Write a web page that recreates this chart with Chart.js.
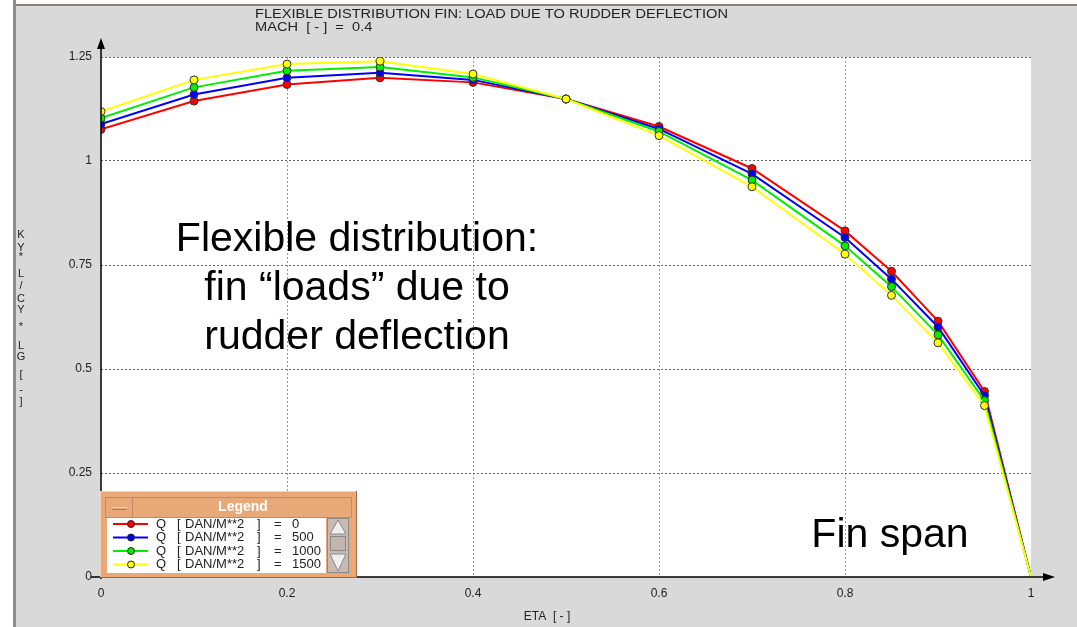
<!DOCTYPE html>
<html>
<head>
<meta charset="utf-8">
<script src="https://cdn.jsdelivr.net/npm/chart.js@4"></script>
<style>
  body { margin: 0; background: #fff; }
  #wrap { width: 1077px; height: 627px; position: relative; }
</style>
</head>
<body>
<div id="wrap"><canvas id="myChart"></canvas></div>
<script>
"use strict";

// values
let eta = [0, 0.1, 0.2, 0.3, 0.4, 0.5, 0.6, 0.7, 0.8, 0.85, 0.9, 0.95, 1];
let load0    = [1.076, 1.144, 1.184, 1.200, 1.189, 1.149, 1.083, 0.982, 0.832, 0.735, 0.615, 0.446, 0];
let load500  = [1.089, 1.160, 1.200, 1.212, 1.195, 1.149, 1.077, 0.969, 0.816, 0.716, 0.601, 0.436, 0];
let load1000 = [1.103, 1.177, 1.217, 1.226, 1.201, 1.149, 1.071, 0.954, 0.796, 0.698, 0.582, 0.424, 0];
let load1500 = [1.119, 1.195, 1.233, 1.240, 1.209, 1.149, 1.061, 0.938, 0.776, 0.677, 0.563, 0.412, 0];
let qValues = [0, 500, 1000, 1500];
let lineColors = ['#ff0000', '#0000ff', '#00ee00', '#ffff00'];
let xTicks = [0, 0.2, 0.4, 0.6, 0.8, 1];
let yTicks = [0, 0.25, 0.5, 0.75, 1, 1.25];

let titleLines = ['FLEXIBLE DISTRIBUTION FIN: LOAD DUE TO RUDDER DEFLECTION', 'MACH  [ - ]  =  0.4'];
let xTitle = 'ETA  [ - ]';
let yTitleChars = ['K', 'Y', '*', 'L', '/', 'C', 'Y', '*', 'L', 'G', '[', '-', ']'];
let noteLines = ['Flexible distribution:', 'fin \u201cloads\u201d due to', 'rudder deflection'];
let spanNote = 'Fin span';

let allLoads = [load0, load500, load1000, load1500];

function makeData(values) {
  let pts = [];
  for (let i = 0; i < eta.length; i++) {
    pts.push({ x: eta[i], y: values[i] });
  }
  return pts;
}

let datasets = [];
for (let i = 0; i < allLoads.length; i++) {
  datasets.push({
    label: 'Q  [ DAN/M**2 ]  =  ' + qValues[i],
    data: makeData(allLoads[i]),
    borderColor: lineColors[i],
    backgroundColor: lineColors[i],
    borderWidth: 2,
    pointRadius: (c) => (c.parsed && c.parsed.x === 1 ? 0 : 4),
    pointBorderColor: '#333',
    pointBorderWidth: 1,
    pointBackgroundColor: lineColors[i],
    clip: 0,
    order: allLoads.length - i
  });
}

let tickFont = { family: 'Liberation Sans, Arial, sans-serif', size: 12 };

let decorPlugin = {
  id: 'decor',
  beforeDraw(chart) {
    let ctx = chart.ctx;
    let a = chart.chartArea;
    ctx.save();
    ctx.fillStyle = '#d9d9d9';
    ctx.fillRect(0, 0, chart.width, chart.height);
    ctx.fillStyle = '#ffffff';
    ctx.fillRect(0, 0, 13, chart.height);
    ctx.fillRect(0, 0, chart.width, 4);
    // window edges
    ctx.fillStyle = '#8c8c8c';
    ctx.fillRect(13, 0, 3, chart.height);
    ctx.fillStyle = '#8a7e78';
    ctx.fillRect(16, 4, chart.width - 16, 2);
    // plot area
    ctx.fillStyle = '#ffffff';
    ctx.fillRect(a.left, a.top, a.right - a.left, a.bottom - a.top);
    ctx.restore();
  },
  afterDatasetsDraw(chart) {
    let ctx = chart.ctx;
    let a = chart.chartArea;
    ctx.save();

    // axes with arrows
    ctx.strokeStyle = '#000';
    ctx.fillStyle = '#000';
    ctx.lineWidth = 1.5;
    ctx.beginPath();
    ctx.moveTo(a.left, a.bottom + 2);
    ctx.lineTo(a.left, a.top - 14);
    ctx.moveTo(a.left - 10, a.bottom);
    ctx.lineTo(a.right + 16, a.bottom);
    ctx.stroke();
    ctx.beginPath();
    ctx.moveTo(a.left, a.top - 19);
    ctx.lineTo(a.left - 4, a.top - 8);
    ctx.lineTo(a.left + 4, a.top - 8);
    ctx.closePath();
    ctx.fill();
    ctx.beginPath();
    ctx.moveTo(a.right + 24, a.bottom);
    ctx.lineTo(a.right + 12, a.bottom - 4);
    ctx.lineTo(a.right + 12, a.bottom + 4);
    ctx.closePath();
    ctx.fill();

    // titles
    ctx.fillStyle = '#222';
    ctx.font = '12px "Liberation Sans", Arial, sans-serif';
    ctx.textBaseline = 'middle';
    ctx.textAlign = 'left';
    let w = ctx.measureText(titleLines[0]).width;
    let sx = 473 / w;
    ctx.save();
    ctx.translate(255, 0);
    ctx.scale(sx, 1);
    ctx.fillText(titleLines[0], 0, 15);
    ctx.fillText(titleLines[1], 0, 28);
    ctx.restore();

    ctx.textAlign = 'center';
    ctx.fillText(xTitle, 547, 617);

    ctx.font = '11px "Liberation Sans", Arial, sans-serif';
    let yPos = [235, 248, 257, 274, 286, 299, 310, 327, 346, 357, 375, 390, 402];
    for (let i = 0; i < yTitleChars.length; i++) {
      ctx.fillText(yTitleChars[i], 21, yPos[i]);
    }

    // big notes
    ctx.fillStyle = '#000';
    ctx.font = '41px "Liberation Sans", Arial, sans-serif';
    for (let i = 0; i < noteLines.length; i++) {
      ctx.fillText(noteLines[i], 357, 240 + i * 49);
    }
    ctx.fillText(spanNote, 890, 536);

    // legend box
    let lx = 100, ly = 491, lw = 257, lh = 87;
    ctx.fillStyle = '#e9a878';
    ctx.fillRect(lx, ly, lw, lh);
    ctx.strokeStyle = '#f7d2b4';
    ctx.lineWidth = 1;
    ctx.beginPath();
    ctx.moveTo(lx + 0.5, ly + lh);
    ctx.lineTo(lx + 0.5, ly + 0.5);
    ctx.lineTo(lx + lw, ly + 0.5);
    ctx.stroke();
    ctx.strokeStyle = '#9c6a48';
    ctx.beginPath();
    ctx.moveTo(lx + lw - 0.5, ly);
    ctx.lineTo(lx + lw - 0.5, ly + lh - 0.5);
    ctx.lineTo(lx, ly + lh - 0.5);
    ctx.stroke();
    // title bar
    ctx.strokeStyle = '#c08a64';
    ctx.strokeRect(lx + 5.5, ly + 6.5, lw - 11, 20);
    ctx.strokeRect(lx + 5.5, ly + 6.5, 27, 20);
    ctx.strokeStyle = '#f7d2b4';
    ctx.beginPath();
    ctx.moveTo(lx + 12, ly + 16.5);
    ctx.lineTo(lx + 27, ly + 16.5);
    ctx.stroke();
    ctx.strokeStyle = '#b07a56';
    ctx.beginPath();
    ctx.moveTo(lx + 12, ly + 18.5);
    ctx.lineTo(lx + 27, ly + 18.5);
    ctx.stroke();
    ctx.fillStyle = '#ffffff';
    ctx.font = 'bold 14px "Liberation Sans", Arial, sans-serif';
    ctx.fillText('Legend', lx + 143, ly + 16);
    // entries area
    ctx.fillStyle = '#ffffff';
    ctx.fillRect(lx + 7, ly + 27, 219, 55);
    // scrollbar
    ctx.fillStyle = '#c9bbb4';
    ctx.fillRect(lx + 227, ly + 27, 22, 55);
    ctx.strokeStyle = '#8a8a8a';
    ctx.strokeRect(lx + 227.5, ly + 27.5, 21, 54);
    ctx.fillStyle = '#eeeeee';
    ctx.strokeStyle = '#888';
    ctx.beginPath();
    ctx.moveTo(lx + 238, ly + 29);
    ctx.lineTo(lx + 230, ly + 43);
    ctx.lineTo(lx + 246, ly + 43);
    ctx.closePath();
    ctx.fill();
    ctx.stroke();
    ctx.fillStyle = '#c4b4ac';
    ctx.fillRect(lx + 230, ly + 45, 16, 15);
    ctx.strokeRect(lx + 230.5, ly + 45.5, 15, 14);
    ctx.fillStyle = '#eeeeee';
    ctx.beginPath();
    ctx.moveTo(lx + 238, ly + 80);
    ctx.lineTo(lx + 230, ly + 63);
    ctx.lineTo(lx + 246, ly + 63);
    ctx.closePath();
    ctx.fill();
    ctx.stroke();

    ctx.font = '13px "Liberation Sans", Arial, sans-serif';
    ctx.textAlign = 'left';
    for (let i = 0; i < qValues.length; i++) {
      let ry = 524 + i * 13.5;
      ctx.strokeStyle = lineColors[i];
      ctx.lineWidth = 2;
      ctx.beginPath();
      ctx.moveTo(113, ry);
      ctx.lineTo(148, ry);
      ctx.stroke();
      ctx.fillStyle = lineColors[i];
      ctx.strokeStyle = '#222';
      ctx.lineWidth = 1;
      ctx.beginPath();
      ctx.arc(131, ry, 3.5, 0, Math.PI * 2);
      ctx.fill();
      ctx.stroke();
      ctx.fillStyle = '#222';
      ctx.fillText('Q', 156, ry);
      ctx.fillText('[', 177, ry);
      ctx.fillText('DAN/M**2', 185, ry);
      ctx.fillText(']', 257, ry);
      ctx.fillText('=', 274, ry);
      ctx.fillText(String(qValues[i]), 292, ry);
    }
    ctx.restore();
  }
};

let chartObject = {
  type: 'line',
  data: { datasets: datasets },
  options: {
    responsive: true,
    maintainAspectRatio: false,
    animation: false,
    layout: { padding: { left: 0, right: 46, top: 57, bottom: 0 } },
    plugins: {
      legend: { display: false },
      tooltip: { enabled: false }
    },
    scales: {
      x: {
        type: 'linear',
        min: 0,
        max: 1,
        afterBuildTicks: (scale) => { scale.ticks = xTicks.map((v) => ({ value: v })); },
        afterFit: (scale) => { scale.height = 50; },
        ticks: {
          font: tickFont,
          color: '#222',
          padding: 9,
          maxRotation: 0,
          callback: (v) => String(v)
        },
        grid: {
          color: (c) => (c.tick && (c.tick.value === 0 || c.tick.value === 1) ? 'rgba(0,0,0,0)' : '#999'),
          lineWidth: 1,
          drawTicks: false
        },
        border: { display: false, dash: [2, 2] }
      },
      y: {
        type: 'linear',
        min: 0,
        max: 1.25,
        afterBuildTicks: (scale) => { scale.ticks = yTicks.map((v) => ({ value: v })); },
        afterFit: (scale) => { scale.width = 101; },
        ticks: {
          font: tickFont,
          color: '#222',
          padding: 9,
          callback: (v) => String(v)
        },
        grid: {
          color: (c) => (c.tick && c.tick.value === 0 ? 'rgba(0,0,0,0)' : '#666'),
          lineWidth: 1,
          drawTicks: false
        },
        border: { display: false, dash: [2, 2] }
      }
    }
  },
  plugins: [decorPlugin]
};

let ctx = document.getElementById('myChart').getContext('2d');
let myChart = new Chart(ctx, chartObject);
</script>
</body>
</html>
